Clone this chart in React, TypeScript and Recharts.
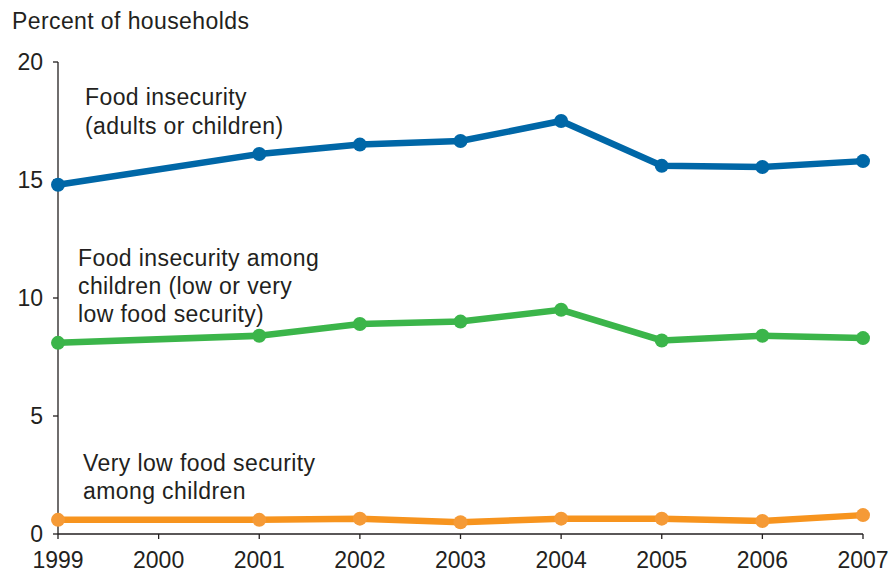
import { Line, LineChart, XAxis, YAxis } from "recharts";

const years = [1999, 2001, 2002, 2003, 2004, 2005, 2006, 2007];
const foodInsecurity = [14.8, 16.1, 16.5, 16.65, 17.5, 15.6, 15.55, 15.8];
const childFoodInsecurity = [8.1, 8.4, 8.9, 9.0, 9.5, 8.2, 8.4, 8.3];
const veryLowChildren = [0.6, 0.6, 0.65, 0.5, 0.65, 0.65, 0.55, 0.8];

const xTicks = [1999, 2000, 2001, 2002, 2003, 2004, 2005, 2006, 2007];
const yTicks = [0, 5, 10, 15, 20];

const FONT = '"Liberation Sans", Arial, Helvetica, sans-serif';
const INK = "#231f20";

const data = years.map((year, i) => ({
    year,
    all: foodInsecurity[i],
    children: childFoodInsecurity[i],
    veryLow: veryLowChildren[i],
}));

const noteStyle = {
    position: "absolute" as const,
    fontFamily: FONT,
    fontSize: 23,
    lineHeight: "28px",
    color: INK,
    whiteSpace: "nowrap" as const,
    letterSpacing: 0.4,
};

export default function App() {
    const tickStyle = { fontFamily: FONT, fontSize: 23, fill: INK };
    return (
        <div
            style={{
                position: "absolute",
                left: 0,
                top: 0,
                width: 890,
                height: 572,
                background: "#fff",
            }}
        >
            <LineChart
                width={890}
                height={572}
                data={data}
                margin={{ top: 62, right: 27, bottom: 0, left: 0 }}
            >
                <XAxis
                    dataKey="year"
                    type="number"
                    domain={[1999, 2007]}
                    ticks={xTicks}
                    height={38}
                    tickSize={5}
                    tickMargin={13}
                    tick={tickStyle}
                    axisLine={{ stroke: INK, strokeWidth: 1.3 }}
                    tickLine={{ stroke: INK, strokeWidth: 1.3 }}
                    interval={0}
                />
                <YAxis
                    type="number"
                    domain={[0, 20]}
                    ticks={yTicks}
                    width={58}
                    tickSize={5}
                    tickMargin={10}
                    tick={tickStyle}
                    axisLine={{ stroke: INK, strokeWidth: 1.3 }}
                    tickLine={{ stroke: INK, strokeWidth: 1.3 }}
                    interval={0}
                />
                <Line
                    dataKey="all"
                    type="linear"
                    stroke="#0067a7"
                    strokeWidth={6.5}
                    dot={{ r: 7, fill: "#0067a7", stroke: "none" }}
                    isAnimationActive={false}
                />
                <Line
                    dataKey="children"
                    type="linear"
                    stroke="#3bb54a"
                    strokeWidth={6.5}
                    dot={{ r: 7, fill: "#3bb54a", stroke: "none" }}
                    isAnimationActive={false}
                />
                <Line
                    dataKey="veryLow"
                    type="linear"
                    stroke="#f7941e"
                    strokeWidth={6.5}
                    dot={{ r: 7, fill: "#f59a36", stroke: "none" }}
                    isAnimationActive={false}
                />
            </LineChart>
            <div style={{ ...noteStyle, left: 12, top: 7 }}>Percent of households</div>
            <div style={{ ...noteStyle, left: 85, top: 83, lineHeight: "29px" }}>
                Food insecurity
                <br />
                (adults or children)
            </div>
            <div style={{ ...noteStyle, left: 78, top: 244 }}>
                Food insecurity among
                <br />
                children (low or very
                <br />
                low food security)
            </div>
            <div style={{ ...noteStyle, left: 83, top: 449 }}>
                Very low food security
                <br />
                among children
            </div>
        </div>
    );
}
